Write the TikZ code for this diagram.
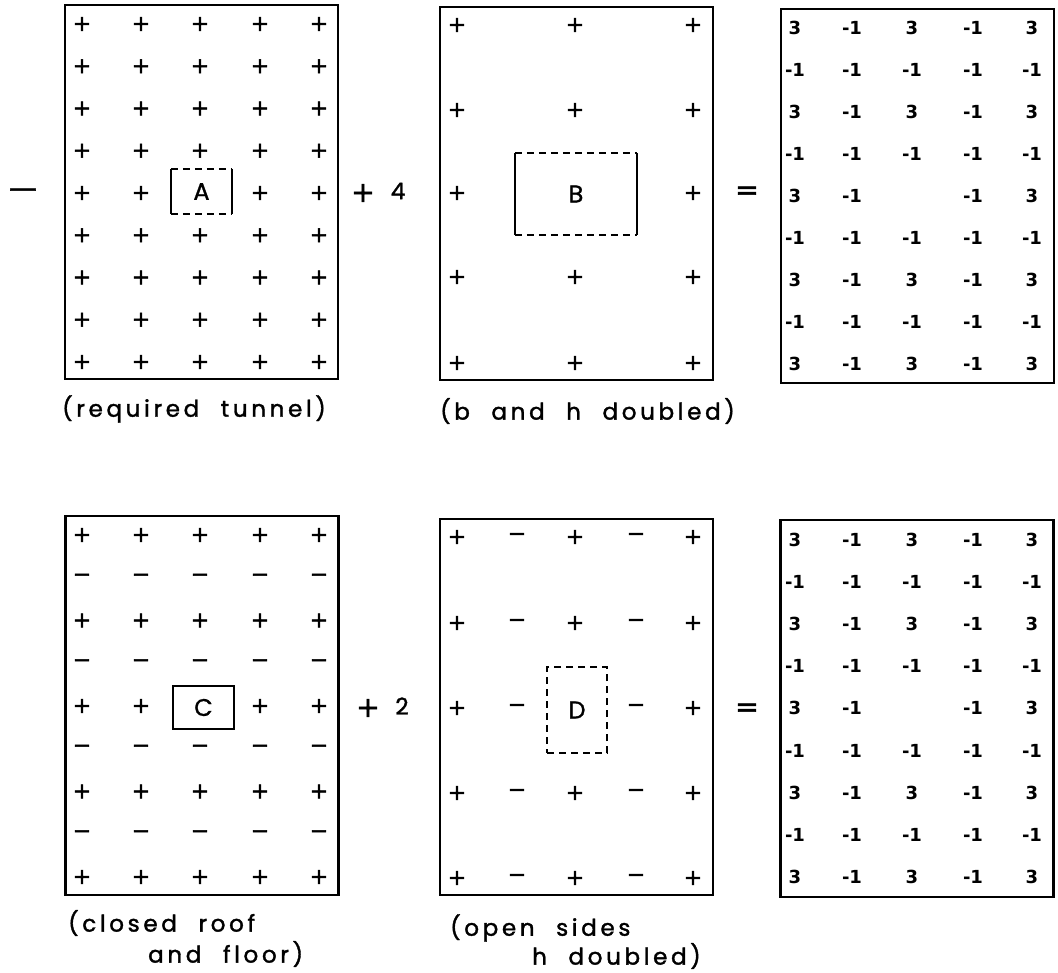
\documentclass[tikz,border=0pt]{standalone}
\usepackage{fontspec}
\setmainfont{Poppins}
\newfontfamily\labfont[LetterSpace=16,WordSpace=2.2,FakeBold=1.6]{Poppins}
\newfontfamily\letfont[FakeBold=1.2]{Poppins}
\newfontfamily\symfont[FakeBold=2]{DejaVu Sans}
\newfontfamily\numfont{DejaVu Sans}
\begin{document}
\begin{tikzpicture}[x=1pt,y=-1pt,
  panel/.style={draw,line width=2.8pt,minimum width=273pt,inner sep=0pt},
  sym/.style={inner sep=0pt,font=\symfont\fontsize{22}{22}\selectfont},
  num/.style={inner sep=0pt,font=\numfont\bfseries\fontsize{18}{18}\selectfont},
  lab/.style={inner sep=0pt,anchor=west,font=\labfont\fontsize{23}{24}\selectfont},
  op/.style={inner sep=0pt,font=\symfont\fontsize{28}{28}\selectfont},
  opnum/.style={inner sep=0pt,font=\labfont\fontsize{23}{23}\selectfont},
  tunnel/.style={inner sep=0pt,font=\letfont\fontsize{24}{24}\selectfont},
  solidside/.style={line width=1.8pt},
  dashside/.style={line width=1.8pt,dash pattern=on 7pt off 5pt}]
\useasboundingbox (0,0) rectangle (1058,973);

% ---------- panels ----------
\node[panel,minimum height=374pt] (P1) at (201.5,192) {};
\node[panel,minimum height=373pt] (P2) at (576.5,193.5) {};
\node[panel,minimum height=374pt] (P3) at (917.5,196) {};
\node[panel,minimum height=379pt] (P4) at (202,705.5) {};
\node[panel,minimum height=376pt] (P5) at (576.5,707) {};
\node[panel,minimum height=377pt] (P6) at (917,708.5) {};

% ---------- panel 1: all plus ----------
\foreach \r in {1,...,9}{
  \foreach \c/\x in {1/82,2/141,3/200,4/260,5/319}{
    \pgfmathsetmacro{\y}{24+(\r-1)*42.25}
    \ifnum\r=5 \ifnum\c=3 \else
      \node[sym] (a\r\c) at (\x,\y) {+};
    \fi\else
      \node[sym] (a\r\c) at (\x,\y) {+};
    \fi
  }
}
\node[tunnel,minimum width=61pt,minimum height=45pt] (A) at (201.5,191.5) {A};
\draw[solidside] (A.north west) -- (A.south west);
\draw[solidside] (A.north east) -- (A.south east);
\draw[dashside] (A.north west) -- (A.north east);
\draw[dashside] (A.south west) -- (A.south east);

% ---------- panel 2 ----------
\foreach \r/\y in {1/25,2/110,3/193,4/277,5/363}{
  \foreach \c/\x in {1/457,2/575,3/693}{
    \ifnum\r=3 \ifnum\c=2 \else
      \node[sym] (b\r\c) at (\x,\y) {+};
    \fi\else
      \node[sym] (b\r\c) at (\x,\y) {+};
    \fi
  }
}
\node[tunnel,minimum width=122pt,minimum height=82pt] (B) at (576,194) {B};
\draw[solidside] (B.north west) -- (B.south west);
\draw[solidside] (B.north east) -- (B.south east);
\draw[dashside] (B.north west) -- (B.north east);
\draw[dashside] (B.south west) -- (B.south east);

% ---------- panel 3 ----------
\foreach \r in {1,...,9}{
  \pgfmathsetmacro{\y}{28+(\r-1)*42}
  \foreach \c/\x in {1/795,2/852,3/912,4/973,5/1032}{
    \pgfmathtruncatemacro{\odd}{mod(\r,2)}
    \pgfmathtruncatemacro{\oddc}{mod(\c,2)}
    \ifnum\r=5 \ifnum\c=3 \def\v{}\else\def\v{x}\fi\else\def\v{x}\fi
    \ifx\v\empty\else
      \ifnum\odd=1
        \ifnum\oddc=1 \node[num] (c\r\c) at (\x,\y) {3};
        \else \node[num] (c\r\c) at (\x,\y) {-1};\fi
      \else
        \node[num] (c\r\c) at (\x,\y) {-1};
      \fi
    \fi
  }
}

% ---------- panel 4 ----------
\foreach \r in {1,...,9}{
  \pgfmathsetmacro{\y}{535+(\r-1)*42.75}
  \pgfmathtruncatemacro{\odd}{mod(\r,2)}
  \foreach \c/\x in {1/82,2/141,3/200,4/260,5/319}{
    \ifnum\r=5 \ifnum\c=3 \def\v{}\else\def\v{x}\fi\else\def\v{x}\fi
    \ifx\v\empty\else
      \ifnum\odd=1 \node[sym] (d\r\c) at (\x,\y) {+};
      \else \node[sym] (d\r\c) at (\x,\y) {−};\fi
    \fi
  }
}
\node[tunnel,draw,line width=1.8pt,minimum width=61pt,minimum height=43pt] (C) at (203.5,707.5) {C};

% ---------- panel 5 ----------
\foreach \r/\y in {1/537,2/623,3/708,4/793,5/878}{
  \foreach \c/\x in {1/457,2/517,3/575,4/636,5/693}{
    \pgfmathtruncatemacro{\oddc}{mod(\c,2)}
    \ifnum\r=3 \ifnum\c=3 \def\v{}\else\def\v{x}\fi\else\def\v{x}\fi
    \ifx\v\empty\else
      \ifnum\oddc=1 \node[sym] (e\r\c) at (\x,\y) {+};
      \else \node[sym] (e\r\c) at (\x,\y) {−};\fi
    \fi
  }
}
\node[tunnel,draw,dashside,minimum width=60pt,minimum height=86pt] (D) at (577,710) {D};

% ---------- panel 6 ----------
\foreach \r in {1,...,9}{
  \pgfmathsetmacro{\y}{540+(\r-1)*42.1}
  \foreach \c/\x in {1/795,2/852,3/912,4/973,5/1032}{
    \pgfmathtruncatemacro{\odd}{mod(\r,2)}
    \pgfmathtruncatemacro{\oddc}{mod(\c,2)}
    \ifnum\r=5 \ifnum\c=3 \def\v{}\else\def\v{x}\fi\else\def\v{x}\fi
    \ifx\v\empty\else
      \ifnum\odd=1
        \ifnum\oddc=1 \node[num] (f\r\c) at (\x,\y) {3};
        \else \node[num] (f\r\c) at (\x,\y) {-1};\fi
      \else
        \node[num] (f\r\c) at (\x,\y) {-1};
      \fi
    \fi
  }
}

% ---------- operators ----------
\node[op] (m1) at (23,193) {—};
\node[op] (p1) at (363,193) {+};
\node[opnum] (n4) at (398,191) {4};
\node[op] (e1) at (747,193) {=};
\node[op] (p2) at (368,708) {+};
\node[opnum] (n2) at (402,706) {2};
\node[op] (e2) at (747,710) {=};

% ---------- labels ----------
\node[lab] (L1) at (62,409) {(required tunnel)};
\node[lab] (L2) at (440,411) {(b and h doubled)};
\node[lab] (L3a) at (68,923) {(closed roof};
\node[lab] (L3b) at (148,954) {and floor)};
\node[lab] (L4a) at (450,928) {(open sides};
\node[lab] (L4b) at (532,956) {h doubled)};
\end{tikzpicture}
\end{document}
